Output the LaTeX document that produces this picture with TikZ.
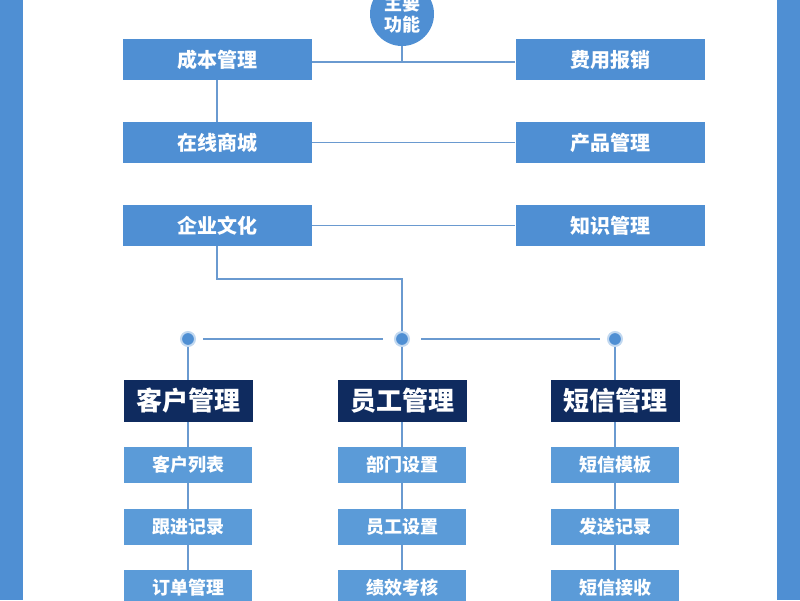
\documentclass[tikz,border=0pt]{standalone}
\usepackage{fontspec}
\newfontfamily\cjk{Noto Sans CJK SC}
\usetikzlibrary{positioning}
\definecolor{boxblue}{HTML}{4F8FD3}
\definecolor{subblue}{HTML}{5B9BD8}
\definecolor{navy}{HTML}{0F2B5F}
\definecolor{lineblue}{HTML}{6A9AD0}
\tikzset{
  top/.style={fill=boxblue,text=white,minimum width=189pt,minimum height=41pt,inner sep=0pt,font=\cjk\bfseries\fontsize{20}{20}\selectfont},
  head/.style={fill=navy,text=white,minimum width=129pt,minimum height=42pt,inner sep=0pt,font=\cjk\bfseries\fontsize{26}{26}\selectfont},
  sub/.style={fill=subblue,text=white,minimum width=128pt,minimum height=36pt,inner sep=0pt,font=\cjk\bfseries\fontsize{18}{18}\selectfont},
  dot/.style={circle,fill=boxblue,draw=boxblue!35,line width=2pt,minimum size=14pt,inner sep=0pt},
  link/.style={draw=lineblue,line width=1.6pt}
}
\begin{document}
\begin{tikzpicture}[x=1pt,y=-1pt]
\useasboundingbox (0,0) rectangle (800,600);

\fill[boxblue] (0,0) rectangle (23,600);
\fill[boxblue] (777,0) rectangle (800,600);

\node [circle,fill=boxblue,minimum size=64pt,inner sep=0pt,text=white,align=center,
  font=\cjk\bfseries\fontsize{18}{21}\selectfont] (main) at (402,14) {主要\\功能};

\node [top] (cost) at (217.5,59.5) {成本管理};
\node [top] (fee) at (610,59.5) {费用报销};
\node [top] (shop) at (217.5,142.5) {在线商城};
\node [top] (prod) at (610,142.5) {产品管理};
\node [top] (cult) at (217.5,225.5) {企业文化};
\node [top] (know) at (610,225.5) {知识管理};

\coordinate (j1) at (402,62);
\coordinate (k1) at (217,279);
\coordinate (k2) at (402,279);

\draw[link] (cost.east |- j1) -- (fee.west |- j1);
\draw[link] (main) -- (j1);
\draw[link] (cost.south -| k1) -- (shop.north -| k1);
\draw[link] (shop) -- (prod);
\draw[link] (cult) -- (know);

\node [dot] (d1) at (188,339) {};
\node [dot] (d2) at (402,339) {};
\node [dot] (d3) at (615,339) {};

\draw[link] (cult.south -| k1) -- (k1) -- (k2) -- (d2);
\draw[link] ([xshift=7pt]d1.east) -- ([xshift=-11pt]d2.west);
\draw[link] ([xshift=11pt]d2.east) -- ([xshift=-7pt]d3.west);

\node [head] (cust) at (188,401) {客户管理};
\node [head] (staff) at (402,401) {员工管理};
\node [head] (sms) at (615,401) {短信管理};

\node [sub] (c1) at (188,465) {客户列表};
\node [sub] (c2) at (188,527) {跟进记录};
\node [sub] (c3) at (188,588) {订单管理};
\node [sub] (s1) at (402,465) {部门设置};
\node [sub] (s2) at (402,527) {员工设置};
\node [sub] (s3) at (402,588) {绩效考核};
\node [sub] (m1) at (615,465) {短信模板};
\node [sub] (m2) at (615,527) {发送记录};
\node [sub] (m3) at (615,588) {短信接收};

\draw[link] (d1) -- (cust) -- (c1) -- (c2) -- (c3);
\draw[link] (d2) -- (staff) -- (s1) -- (s2) -- (s3);
\draw[link] (d3) -- (sms) -- (m1) -- (m2) -- (m3);

\end{tikzpicture}
\end{document}
